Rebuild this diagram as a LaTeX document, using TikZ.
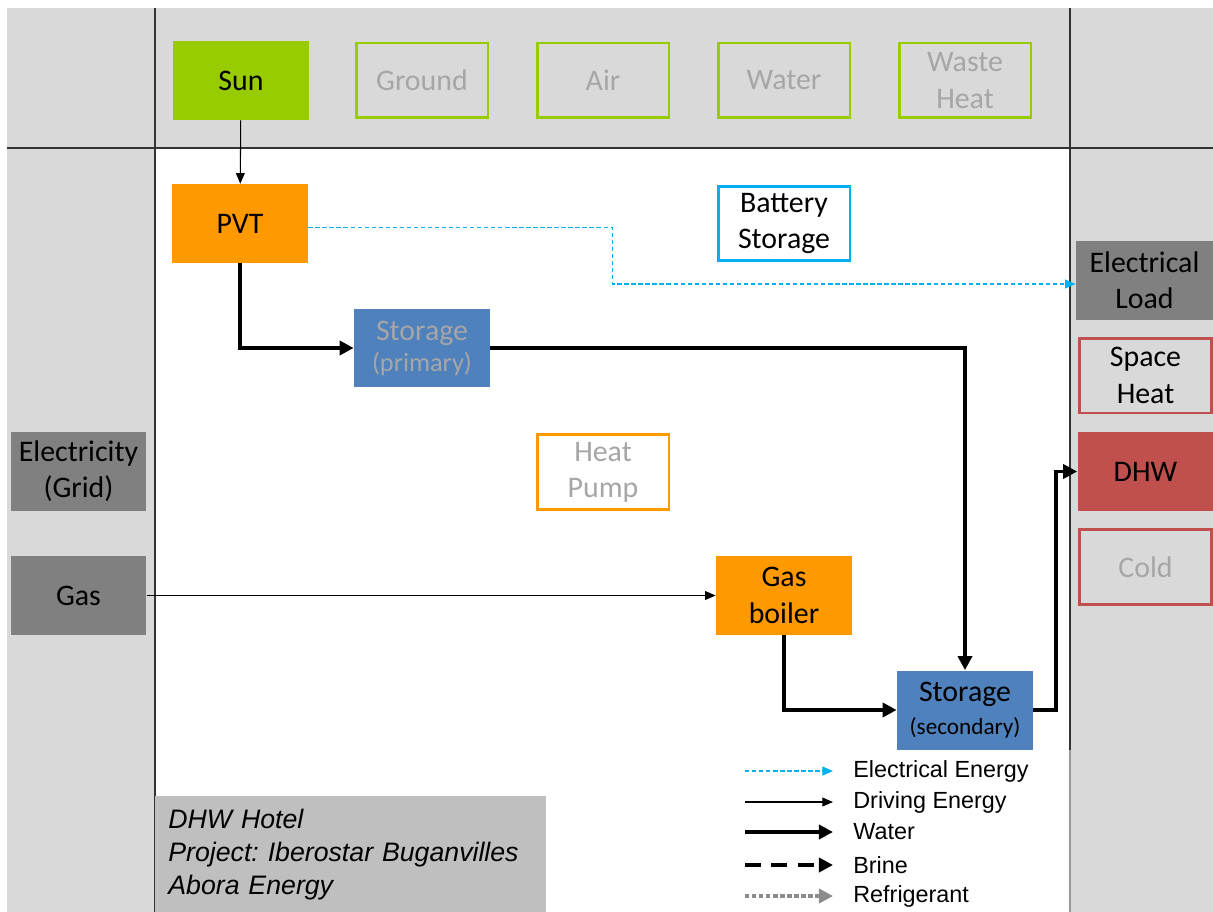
\documentclass[tikz,border=0pt]{standalone}
\usepackage{fontspec}
\setmainfont{Carlito}
\newfontfamily\arialfont{Liberation Sans}
\usetikzlibrary{arrows.meta}
\frenchspacing

\definecolor{bggray}{HTML}{D9D9D9}
\definecolor{darkbox}{HTML}{808080}
\definecolor{infogray}{HTML}{BFBFBF}
\definecolor{fadetext}{HTML}{A6A6A6}
\definecolor{sungreen}{HTML}{99CC00}
\definecolor{pvtorange}{HTML}{FF9900}
\definecolor{storblue}{HTML}{4F81BD}
\definecolor{loadred}{HTML}{C0504D}
\definecolor{eleccyan}{HTML}{00B0F0}

\begin{document}
\begin{tikzpicture}[x=0.02cm, y=-0.02cm,
    box/.style={minimum width=2.72cm, minimum height=1.58cm, inner sep=1pt, align=center,
        font=\fontsize{17}{20.6}\selectfont},
    openbox/.style={box, line width=1.7pt, minimum width=2.64cm, minimum height=1.5cm},
    drive/.style={line width=0.6pt, -{Triangle[length=6pt, width=5pt]}},
    water/.style={line width=2.2pt, -{Triangle[length=8pt, width=8pt]}},
    elec/.style={eleccyan, line width=0.7pt, dash pattern=on 2.5pt off 1.5pt, -{Triangle[length=6pt, width=5pt]}},
    legtext/.style={anchor=west, inner sep=0pt, font=\arialfont\fontsize{13.3}{16}\selectfont}]
\useasboundingbox (0,0) rectangle (1213,912);

% background bands
\fill[bggray] (7,8) rectangle (1213,912);
\fill[white] (155,148) rectangle (1070,912);
\draw[line width=0.8pt, black!80] (7,148) -- (1213,148);
\draw[line width=0.8pt, black!80] (155,8) -- (155,912);
\draw[line width=0.8pt, black!80] (1070,8) -- (1070,750);
\draw[line width=0.8pt, black!40] (1070,750) -- (1070,912);

% sources
\node[box, fill=sungreen] (sun) at (241,80.5) {Sun};
\node[openbox, draw=sungreen, text=fadetext] (ground) at (422,80.5) {Ground};
\node[openbox, draw=sungreen, text=fadetext] (air) at (603,80.5) {Air};
\node[openbox, draw=sungreen, text=fadetext] (water) at (784,80.5) {Water};
\node[openbox, draw=sungreen, text=fadetext] (waste) at (965,80.5) {Waste\\Heat};

% grid inputs
\node[box, fill=darkbox] (grid) at (78.5,471.5) {Electricity\\(Grid)};
\node[box, fill=darkbox] (gas) at (78.5,595.5) {Gas};

% converters and storages
\node[box, fill=pvtorange] (pvt) at (240,223.5) {PVT};
\node[openbox, draw=eleccyan, fill=white] (battery) at (784,223.5) {Battery\\Storage};
\node[box, fill=storblue, text=fadetext] (storP) at (422,348) {Storage\\[-3pt]{\fontsize{15}{17}\selectfont(primary)}};
\node[openbox, draw=pvtorange, fill=white, text=fadetext] (heatpump) at (603,472) {Heat\\Pump};
\node[box, fill=pvtorange] (boiler) at (784,595.5) {Gas\\boiler};
\node[box, fill=storblue] (storS) at (965,710) {Storage\\[-2pt]{\fontsize{13.2}{15}\selectfont(secondary)}};

% loads
\node[box, fill=darkbox, minimum width=2.74cm] (load) at (1144.5,280.5) {Electrical\\Load};
\node[openbox, draw=loadred] (space) at (1145.5,375.5) {Space\\Heat};
\node[box, fill=loadred] (dhw) at (1145.5,471.5) {DHW};
\node[openbox, draw=loadred, text=fadetext] (cold) at (1145.5,567) {Cold};

% connections
\draw[drive] (sun) -- (pvt);
\draw[elec] ([yshift=-0.08cm]pvt.east) -- ++(304,0) |- ([yshift=-0.07cm]load.west);
\draw[water] (pvt.south) |- (storP.west);
\draw[water] (storP.east) -| (storS.north);
\draw[drive] (gas.east) -- (boiler.west);
\draw[water] (boiler.south) |- (storS.west);
\draw[water] (storS.east) -- ++(23,0) |- (dhw.west);

% info box
\node[fill=infogray, anchor=north west, minimum width=7.82cm, minimum height=2.32cm,
    text width=7.3cm, align=left, inner xsep=0.26cm,
    font=\arialfont\itshape\fontsize{15.2}{18.7}\selectfont] (info) at (155,796)
    {DHW Hotel\\Project: Iberostar Buganvilles\\Abora Energy};

% legend
\node[legtext] (legElec) at (853,771) {Electrical Energy};
\node[legtext] (legDrive) at (853,802) {Driving Energy};
\node[legtext] (legWater) at (853,832) {Water};
\node[legtext] (legBrine) at (853,865) {Brine};
\node[legtext] (legRefr) at (853,896) {Refrigerant};
\coordinate (e1) at (745,771); \coordinate (e2) at (833,771);
\coordinate (d1) at (745,802); \coordinate (d2) at (833,802);
\coordinate (w1) at (745,832); \coordinate (w2) at (833,832);
\coordinate (b1) at (745,865); \coordinate (b2) at (833,865);
\coordinate (r1) at (745,896); \coordinate (r2) at (833,896);
\draw[elec] (e1) -- (e2);
\draw[drive] (d1) -- (d2);
\draw[water] (w1) -- (w2);
\draw[water, dash pattern=on 9pt off 6pt] (b1) -- (b2);
\draw[water, black!45, dash pattern=on 2.5pt off 1.5pt] (r1) -- (r2);

\end{tikzpicture}
\end{document}
